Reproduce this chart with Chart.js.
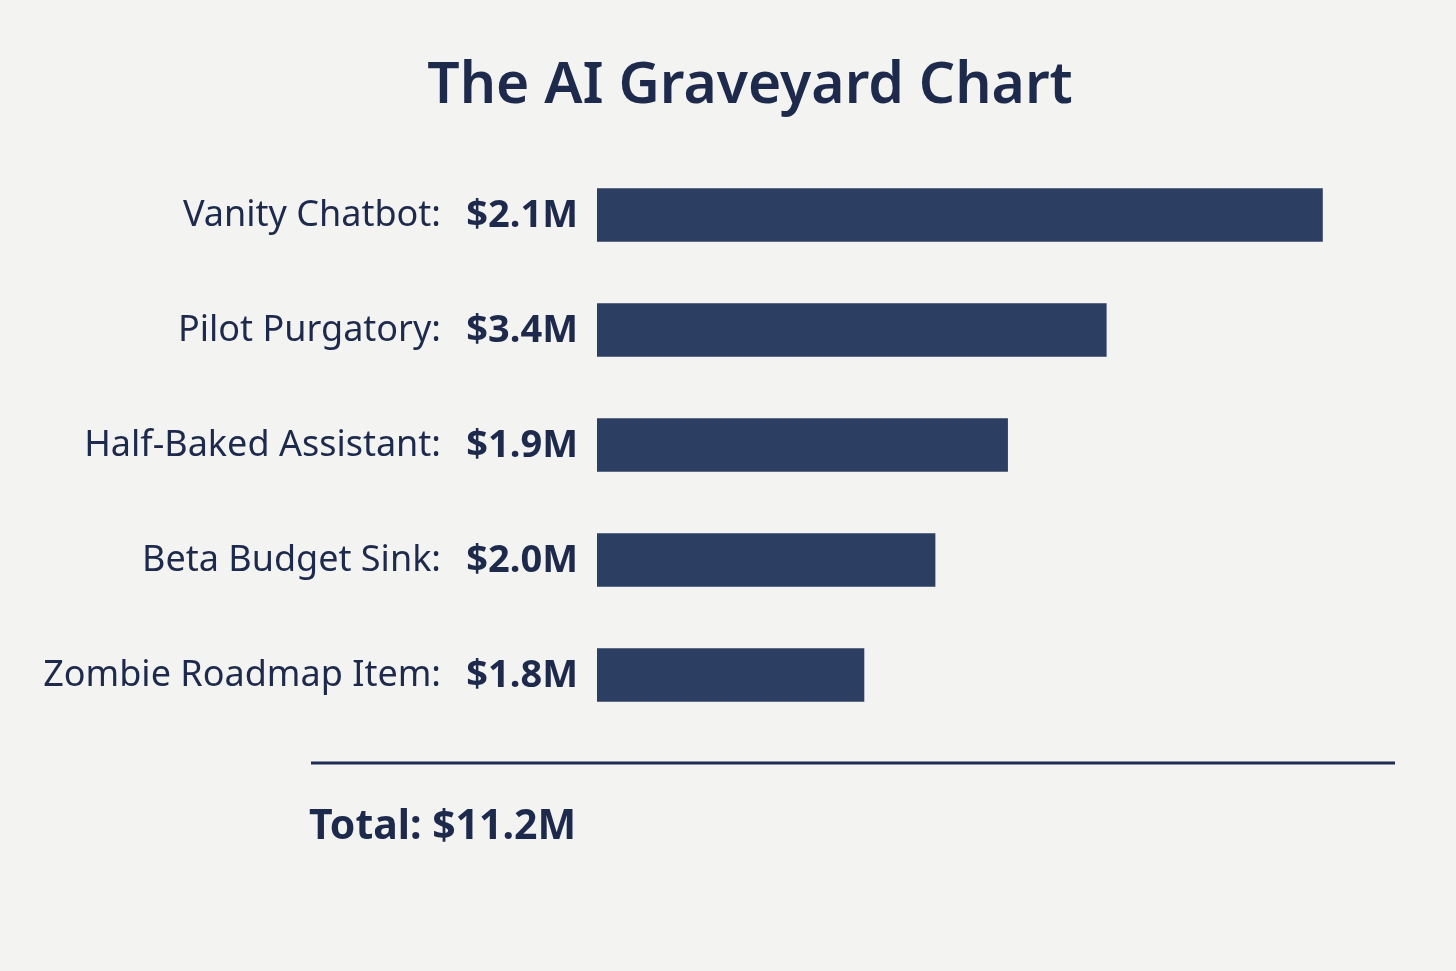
<!DOCTYPE html>
<html>
<head>
<meta charset="utf-8">
<script src="https://cdn.jsdelivr.net/npm/chart.js@4.4.1/dist/chart.umd.min.js"></script>
<style>
  html, body { margin: 0; padding: 0; background: #f3f3f2; }
  #wrap { width: 1456px; height: 971px; position: relative; }
</style>
</head>
<body>
<div id="wrap"><canvas id="c"></canvas></div>
<script>
// ---- data ----
const categories = ["Vanity Chatbot:", "Pilot Purgatory:", "Half-Baked Assistant:", "Beta Budget Sink:", "Zombie Roadmap Item:"];
// dollar amounts printed next to each bar ($M)
const amounts = [2.1, 3.4, 1.9, 2.0, 1.8];
// bar lengths as drawn in the picture (relative units, longest = 100; not proportional to the amounts)
const barLengths = [100, 70.2, 56.6, 46.6, 36.8];
const titleText = "The AI Graveyard Chart";
const totalLabel = "Total: ";

const FONT = "'Noto Sans', sans-serif";
const TEXT = "#1d2a4c";
const BAR = "#2d3e63";

const overlay = {
  id: 'overlay',
  beforeDraw(chart) {
    const ctx = chart.ctx;
    ctx.save();
    ctx.fillStyle = '#f3f3f2';
    ctx.fillRect(0, 0, chart.width, chart.height);
    ctx.restore();
  },
  afterDraw(chart) {
    const ctx = chart.ctx;
    const y = chart.scales.y;
    const x = chart.scales.x;
    ctx.save();
    ctx.fillStyle = TEXT;
    // title
    ctx.font = "600 57px " + FONT;
    ctx.textAlign = 'center';
    ctx.textBaseline = 'alphabetic';
    ctx.fillText(titleText, 750, 103);
    // row labels
    categories.forEach((cat, i) => {
      const py = y.getPixelForValue(i);
      ctx.textBaseline = 'middle';
      ctx.textAlign = 'right';
      ctx.font = "400 36px " + FONT;
      ctx.fillText(cat, 441, py + 1);
      ctx.font = "700 38px " + FONT;
      ctx.fillText("$" + amounts[i].toFixed(1) + "M", 578, py + 1);
    });
    // divider line
    ctx.strokeStyle = "#1e2c52";
    ctx.lineWidth = 3;
    ctx.beginPath();
    ctx.moveTo(311, 763);
    ctx.lineTo(x.right, 763);
    ctx.stroke();
    // total
    const total = amounts.reduce((a, b) => a + b, 0);
    ctx.font = "700 41px " + FONT;
    ctx.textAlign = 'left';
    ctx.textBaseline = 'alphabetic';
    ctx.fillText(totalLabel + "$" + total.toFixed(1) + "M", 309, 839);
    ctx.restore();
  }
};

new Chart(document.getElementById('c'), {
  type: 'bar',
  data: {
    labels: categories,
    datasets: [{
      data: barLengths,
      backgroundColor: BAR,
      borderWidth: 0,
      barThickness: 53
    }]
  },
  options: {
    indexAxis: 'y',
    responsive: true,
    maintainAspectRatio: false,
    animation: false,
    layout: { padding: { left: 597, right: 61, top: 157.5, bottom: 238.5 } },
    plugins: { legend: { display: false }, title: { display: false }, tooltip: { enabled: false } },
    scales: {
      x: { display: false, min: 0, max: 110 },
      y: { display: false }
    }
  },
  plugins: [overlay]
});
</script>
</body>
</html>
